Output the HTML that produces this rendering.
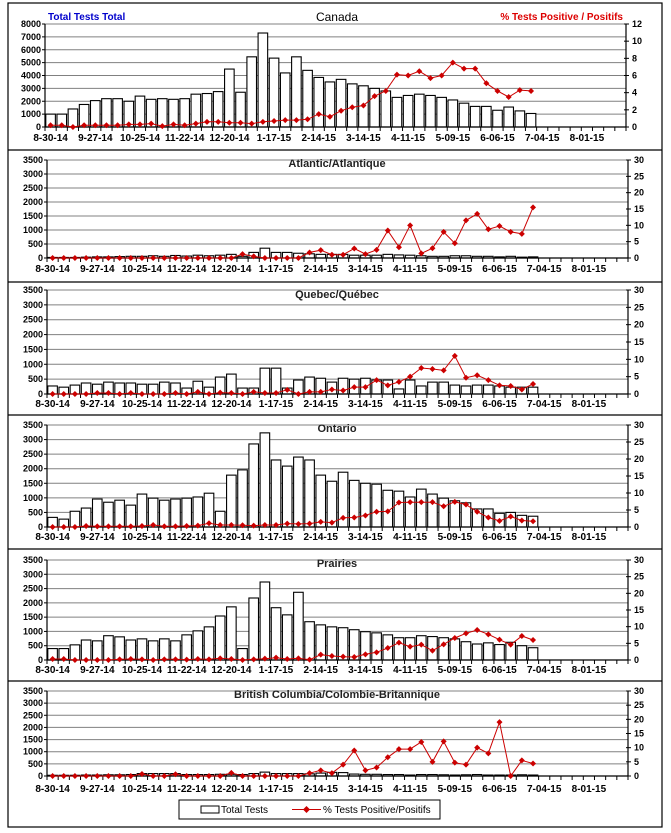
<!DOCTYPE html>
<html><head><meta charset="utf-8"><style>
html,body{margin:0;padding:0;background:#fff}
svg{display:block}
text{font-family:"Liberation Sans",Arial,sans-serif}
.l{font-size:9px;font-weight:bold;text-anchor:end}
.r{font-size:9px;font-weight:bold}
.x{font-size:10px;font-weight:bold;text-anchor:middle}
.t{font-size:11px;text-anchor:middle;font-weight:bold;fill:#222}
</style></head><body>
<svg id="s" width="671" height="833" viewBox="0 0 671 833" xmlns="http://www.w3.org/2000/svg">
<rect x="0" y="0" width="671" height="833" fill="#fff"/>
<g fill="none" stroke="#000" stroke-width="1.2">
<rect x="8" y="3" width="654" height="824"/>
<line x1="8" y1="150" x2="662" y2="150"/>
<line x1="8" y1="282" x2="662" y2="282"/>
<line x1="8" y1="415" x2="662" y2="415"/>
<line x1="8" y1="549" x2="662" y2="549"/>
<line x1="8" y1="681" x2="662" y2="681"/>
</g>
<g id="gfx"></g>

<!-- Canada -->
<text x="48" y="20" style="font-size:10px;font-weight:bold;fill:#0000cc">Total Tests Total</text>
<text x="337" y="21" style="font-size:12px;text-anchor:middle">Canada</text>
<text x="623" y="20" style="font-size:10px;font-weight:bold;fill:#dd0000;text-anchor:end">% Tests Positive / Positifs</text>
<g transform="translate(45,127)">
<text class="l" x="-4" y="3">0</text><text class="l" x="-4" y="-9.9">1000</text><text class="l" x="-4" y="-22.7">2000</text><text class="l" x="-4" y="-35.6">3000</text><text class="l" x="-4" y="-48.5">4000</text><text class="l" x="-4" y="-61.4">5000</text><text class="l" x="-4" y="-74.2">6000</text><text class="l" x="-4" y="-87.1">7000</text><text class="l" x="-4" y="-100">8000</text>
<text class="r" x="587" y="3">0</text><text class="r" x="587" y="-14.2">2</text><text class="r" x="587" y="-31.3">4</text><text class="r" x="587" y="-48.5">6</text><text class="r" x="587" y="-65.7">8</text><text class="r" x="587" y="-82.8">10</text><text class="r" x="587" y="-100">12</text>
<text class="x" x="5.6" y="14">8-30-14</text><text class="x" x="50.3" y="14">9-27-14</text><text class="x" x="95" y="14">10-25-14</text><text class="x" x="139.7" y="14">11-22-14</text><text class="x" x="184.4" y="14">12-20-14</text><text class="x" x="229" y="14">1-17-15</text><text class="x" x="273.7" y="14">2-14-15</text><text class="x" x="318.4" y="14">3-14-15</text><text class="x" x="363.1" y="14">4-11-15</text><text class="x" x="407.8" y="14">5-09-15</text><text class="x" x="452.5" y="14">6-06-15</text><text class="x" x="497.2" y="14">7-04-15</text><text class="x" x="541.9" y="14">8-01-15</text>
</g>

<!-- Atlantic -->
<text class="t" x="337" y="167">Atlantic/Atlantique</text>
<g transform="translate(47,258)">
<text class="l" x="-4" y="3">0</text><text class="l" x="-4" y="-11">500</text><text class="l" x="-4" y="-25">1000</text><text class="l" x="-4" y="-39">1500</text><text class="l" x="-4" y="-53">2000</text><text class="l" x="-4" y="-67">2500</text><text class="l" x="-4" y="-81">3000</text><text class="l" x="-4" y="-95">3500</text>
<text class="r" x="587" y="3">0</text><text class="r" x="587" y="-13.3">5</text><text class="r" x="587" y="-29.7">10</text><text class="r" x="587" y="-46">15</text><text class="r" x="587" y="-62.3">20</text><text class="r" x="587" y="-78.7">25</text><text class="r" x="587" y="-95">30</text>
<text class="x" x="5.6" y="14">8-30-14</text><text class="x" x="50.3" y="14">9-27-14</text><text class="x" x="95" y="14">10-25-14</text><text class="x" x="139.7" y="14">11-22-14</text><text class="x" x="184.4" y="14">12-20-14</text><text class="x" x="229" y="14">1-17-15</text><text class="x" x="273.7" y="14">2-14-15</text><text class="x" x="318.4" y="14">3-14-15</text><text class="x" x="363.1" y="14">4-11-15</text><text class="x" x="407.8" y="14">5-09-15</text><text class="x" x="452.5" y="14">6-06-15</text><text class="x" x="497.2" y="14">7-04-15</text><text class="x" x="541.9" y="14">8-01-15</text>
</g>

<!-- Quebec -->
<text class="t" x="337" y="298">Quebec/Québec</text>
<g transform="translate(47,394)">
<text class="l" x="-4" y="3">0</text><text class="l" x="-4" y="-11.9">500</text><text class="l" x="-4" y="-26.7">1000</text><text class="l" x="-4" y="-41.6">1500</text><text class="l" x="-4" y="-56.4">2000</text><text class="l" x="-4" y="-71.3">2500</text><text class="l" x="-4" y="-86.1">3000</text><text class="l" x="-4" y="-101">3500</text>
<text class="r" x="587" y="3">0</text><text class="r" x="587" y="-14.3">5</text><text class="r" x="587" y="-31.7">10</text><text class="r" x="587" y="-49">15</text><text class="r" x="587" y="-66.3">20</text><text class="r" x="587" y="-83.7">25</text><text class="r" x="587" y="-101">30</text>
<text class="x" x="5.6" y="13">8-30-14</text><text class="x" x="50.3" y="13">9-27-14</text><text class="x" x="95" y="13">10-25-14</text><text class="x" x="139.7" y="13">11-22-14</text><text class="x" x="184.4" y="13">12-20-14</text><text class="x" x="229" y="13">1-17-15</text><text class="x" x="273.7" y="13">2-14-15</text><text class="x" x="318.4" y="13">3-14-15</text><text class="x" x="363.1" y="13">4-11-15</text><text class="x" x="407.8" y="13">5-09-15</text><text class="x" x="452.5" y="13">6-06-15</text><text class="x" x="497.2" y="13">7-04-15</text><text class="x" x="541.9" y="13">8-01-15</text>
</g>

<!-- Ontario -->
<text class="t" x="337" y="432">Ontario</text>
<g transform="translate(47,527)">
<text class="l" x="-4" y="3">0</text><text class="l" x="-4" y="-11.6">500</text><text class="l" x="-4" y="-26.1">1000</text><text class="l" x="-4" y="-40.7">1500</text><text class="l" x="-4" y="-55.3">2000</text><text class="l" x="-4" y="-69.9">2500</text><text class="l" x="-4" y="-84.4">3000</text><text class="l" x="-4" y="-99">3500</text>
<text class="r" x="587" y="3">0</text><text class="r" x="587" y="-14">5</text><text class="r" x="587" y="-31">10</text><text class="r" x="587" y="-48">15</text><text class="r" x="587" y="-65">20</text><text class="r" x="587" y="-82">25</text><text class="r" x="587" y="-99">30</text>
<text class="x" x="5.6" y="13">8-30-14</text><text class="x" x="50.3" y="13">9-27-14</text><text class="x" x="95" y="13">10-25-14</text><text class="x" x="139.7" y="13">11-22-14</text><text class="x" x="184.4" y="13">12-20-14</text><text class="x" x="229" y="13">1-17-15</text><text class="x" x="273.7" y="13">2-14-15</text><text class="x" x="318.4" y="13">3-14-15</text><text class="x" x="363.1" y="13">4-11-15</text><text class="x" x="407.8" y="13">5-09-15</text><text class="x" x="452.5" y="13">6-06-15</text><text class="x" x="497.2" y="13">7-04-15</text><text class="x" x="541.9" y="13">8-01-15</text>
</g>

<!-- Prairies -->
<text class="t" x="337" y="567">Prairies</text>
<g transform="translate(47,660)">
<text class="l" x="-4" y="3">0</text><text class="l" x="-4" y="-11.3">500</text><text class="l" x="-4" y="-25.6">1000</text><text class="l" x="-4" y="-39.9">1500</text><text class="l" x="-4" y="-54.1">2000</text><text class="l" x="-4" y="-68.4">2500</text><text class="l" x="-4" y="-82.7">3000</text><text class="l" x="-4" y="-97">3500</text>
<text class="r" x="587" y="3">0</text><text class="r" x="587" y="-13.7">5</text><text class="r" x="587" y="-30.3">10</text><text class="r" x="587" y="-47">15</text><text class="r" x="587" y="-63.7">20</text><text class="r" x="587" y="-80.3">25</text><text class="r" x="587" y="-97">30</text>
<text class="x" x="5.6" y="13">8-30-14</text><text class="x" x="50.3" y="13">9-27-14</text><text class="x" x="95" y="13">10-25-14</text><text class="x" x="139.7" y="13">11-22-14</text><text class="x" x="184.4" y="13">12-20-14</text><text class="x" x="229" y="13">1-17-15</text><text class="x" x="273.7" y="13">2-14-15</text><text class="x" x="318.4" y="13">3-14-15</text><text class="x" x="363.1" y="13">4-11-15</text><text class="x" x="407.8" y="13">5-09-15</text><text class="x" x="452.5" y="13">6-06-15</text><text class="x" x="497.2" y="13">7-04-15</text><text class="x" x="541.9" y="13">8-01-15</text>
</g>

<!-- BC -->
<text class="t" x="337" y="698">British Columbia/Colombie-Britannique</text>
<g transform="translate(47,776)">
<text class="l" x="-4" y="3">0</text><text class="l" x="-4" y="-9.1">500</text><text class="l" x="-4" y="-21.3">1000</text><text class="l" x="-4" y="-33.4">1500</text><text class="l" x="-4" y="-45.6">2000</text><text class="l" x="-4" y="-57.7">2500</text><text class="l" x="-4" y="-69.9">3000</text><text class="l" x="-4" y="-82">3500</text>
<text class="r" x="587" y="3">0</text><text class="r" x="587" y="-11.2">5</text><text class="r" x="587" y="-25.3">10</text><text class="r" x="587" y="-39.5">15</text><text class="r" x="587" y="-53.7">20</text><text class="r" x="587" y="-67.8">25</text><text class="r" x="587" y="-82">30</text>
<text class="x" x="5.6" y="16">8-30-14</text><text class="x" x="50.3" y="16">9-27-14</text><text class="x" x="95" y="16">10-25-14</text><text class="x" x="139.7" y="16">11-22-14</text><text class="x" x="184.4" y="16">12-20-14</text><text class="x" x="229" y="16">1-17-15</text><text class="x" x="273.7" y="16">2-14-15</text><text class="x" x="318.4" y="16">3-14-15</text><text class="x" x="363.1" y="16">4-11-15</text><text class="x" x="407.8" y="16">5-09-15</text><text class="x" x="452.5" y="16">6-06-15</text><text class="x" x="497.2" y="16">7-04-15</text><text class="x" x="541.9" y="16">8-01-15</text>
</g>

<!-- Legend -->
<rect x="179" y="800" width="261" height="19" fill="#fff" stroke="#000" stroke-width="1"/>
<rect x="201" y="806" width="18" height="7" fill="#fff" stroke="#000" stroke-width="1"/>
<text x="221" y="813" style="font-size:10px">Total Tests</text>
<line x1="292" y1="809.5" x2="321" y2="809.5" stroke="#cc0000" stroke-width="1"/>
<path d="M306.5 806 L310 809.5 L306.5 813 L303 809.5Z" fill="#cc0000"/>
<text x="323" y="813" style="font-size:10px">% Tests Positive/Positifs</text>
</svg>
<script>
(function(){
var NS="http://www.w3.org/2000/svg",g=document.getElementById("gfx");
function el(n,a){var e=document.createElementNS(NS,n);for(var k in a)e.setAttribute(k,a[k]);g.appendChild(e);return e;}
var P=[
{L:45,R:626,T:24,B:127,lm:8000,ln:8,rm:12,rn:6,
bars:[1000,1000,1400,1750,2050,2200,2200,2000,2400,2150,2200,2150,2200,2550,2600,2750,4500,2700,5450,7300,5350,4200,5450,4400,3850,3500,3700,3350,3200,3000,2800,2300,2450,2550,2450,2300,2100,1850,1600,1600,1300,1550,1250,1050],
pct:[0.2,0.2,0,0.2,0.2,0.2,0.2,0.3,0.3,0.4,0.1,0.3,0.2,0.4,0.6,0.6,0.5,0.5,0.4,0.6,0.7,0.8,0.8,0.9,1.5,1.2,1.9,2.3,2.5,3.6,4.2,6.1,6.0,6.5,5.7,6.0,7.5,6.8,6.8,5.1,4.2,3.5,4.3,4.2]},
{L:47,R:628,T:160,B:258,lm:3500,ln:7,rm:30,rn:6,
bars:[20,20,20,30,40,40,50,60,60,80,60,90,70,100,80,100,130,60,200,350,200,200,170,150,130,130,130,100,100,100,130,110,100,80,60,60,80,80,60,60,40,60,30,40],
pct:[0,0,0,0,0,0,0,0,0,0,0,0,0,0,0,0,0,1.2,0.5,0,0,0,0,1.7,2.4,1,1,2.9,1.2,2.5,8.4,3.3,10,1.4,3,8,4.5,11.5,13.5,8.8,9.8,8,7.4,15.5]},
{L:47,R:628,T:290,B:394,lm:3500,ln:7,rm:30,rn:6,
bars:[270,230,300,370,330,400,370,370,330,330,400,370,200,430,230,570,670,200,200,870,870,200,470,570,530,400,530,500,530,470,470,170,470,270,400,400,300,270,300,300,270,230,230,230],
pct:[0,0,0,0,0.3,0.3,0,0.3,0,0,0,0.3,0,0.6,0,0.4,0.3,0,0.6,0.3,0.3,1.2,0,0.6,0.6,1.3,1,2,2,4,2.5,3.5,5,7.5,7.2,6.8,11,4.7,5.4,4,2.5,2.3,1.3,2.9]},
{L:47,R:628,T:425,B:527,lm:3500,ln:7,rm:30,rn:6,
bars:[330,270,540,650,960,850,920,750,1130,990,920,960,990,1030,1160,540,1780,1960,2850,3230,2300,2090,2400,2300,1780,1570,1880,1600,1500,1470,1260,1230,1030,1300,1130,990,900,830,620,620,470,500,400,370],
pct:[0,0,0,0.3,0.2,0.2,0.2,0.2,0.3,0.6,0.2,0.2,0.3,0.4,1.1,0.6,0.6,0.5,0.4,0.6,0.6,1,0.9,1,1.5,1.3,2.7,2.8,3.4,4.5,4.6,7.2,7.3,7.3,7.3,6.1,7.4,6.6,4.5,2.8,1.8,3.1,1.9,1.7]},
{L:47,R:628,T:560,B:660,lm:3500,ln:7,rm:30,rn:6,
bars:[400,400,530,700,670,850,810,700,740,670,740,670,880,1020,1160,1540,1860,400,2170,2730,1830,1580,2370,1340,1230,1160,1130,1060,990,950,880,780,780,850,820,780,740,640,560,600,540,620,500,430],
pct:[0.3,0.3,0,0,0,0,0.2,0.3,0.2,0,0.2,0.2,0.1,0.3,0.2,0.5,0.3,0,0.2,0.4,0.7,0.3,0.5,0.1,1.6,1.2,1,0.9,1.7,2.3,3.6,5.2,4,4.6,2.8,4.7,6.6,8,9,7.7,6.1,4.6,7.2,6]},
{L:47,R:628,T:691,B:776,lm:3500,ln:7,rm:30,rn:6,
bars:[30,30,30,40,40,50,50,60,100,100,100,100,60,60,60,70,70,60,100,160,100,100,100,90,120,150,140,80,70,70,60,60,40,60,60,50,40,50,60,40,40,40,50,40],
pct:[0,0,0,0,0,0,0,0,0.7,0,0,0.6,0,0,0,0,1.1,0,0,0,0,0,0,1,2,1,4,9,2,3,6.6,9.5,9.5,12,5,12.2,4.7,4,10,8,19,0,5.5,4.4]}
];
P.forEach(function(p){
 var W=p.R-p.L,H=p.B-p.T,cw=W/52,i;
 for(i=1;i<=p.ln;i++){var y=p.B-i*H/p.ln;el("line",{x1:p.L,x2:p.R,y1:y,y2:y,stroke:"#808080","stroke-width":1});}
 for(i=0;i<=p.ln;i++){var y=p.B-i*H/p.ln;el("line",{x1:p.L-3,x2:p.L,y1:y,y2:y,stroke:"#000"});}
 for(i=0;i<=p.rn;i++){var y=p.B-i*H/p.rn;el("line",{x1:p.R-2,x2:p.R+3,y1:y,y2:y,stroke:"#000"});}
 p.bars.forEach(function(v,k){var h=v/p.lm*H;el("rect",{x:p.L+k*cw+0.8,y:p.B-h,width:cw-1.6,height:h,fill:"#fff",stroke:"#000","stroke-width":1.1});});
 el("line",{x1:p.L,x2:p.L,y1:p.T,y2:p.B,stroke:"#000","stroke-width":1.2});
 el("line",{x1:p.R,x2:p.R,y1:p.T,y2:p.B,stroke:"#000","stroke-width":1.2});
 el("line",{x1:p.L,x2:p.R,y1:p.B,y2:p.B,stroke:"#000","stroke-width":1.2});
 for(i=0;i<=52;i++){var x=p.L+i*cw;el("line",{x1:x,x2:x,y1:p.B,y2:p.B+4,stroke:"#000"});}
 var pts=p.pct.map(function(v,k){return [p.L+(k+0.5)*cw,p.B-v/p.rm*H];});
 el("polyline",{points:pts.map(function(a){return a[0].toFixed(1)+","+a[1].toFixed(1)}).join(" "),fill:"none",stroke:"#cc0000","stroke-width":1});
 pts.forEach(function(a){var x=a[0],y=a[1],r=3;el("path",{d:"M"+x+" "+(y-r)+"L"+(x+r)+" "+y+"L"+x+" "+(y+r)+"L"+(x-r)+" "+y+"Z",fill:"#cc0000"});});
});
})();
</script>
</body></html>
